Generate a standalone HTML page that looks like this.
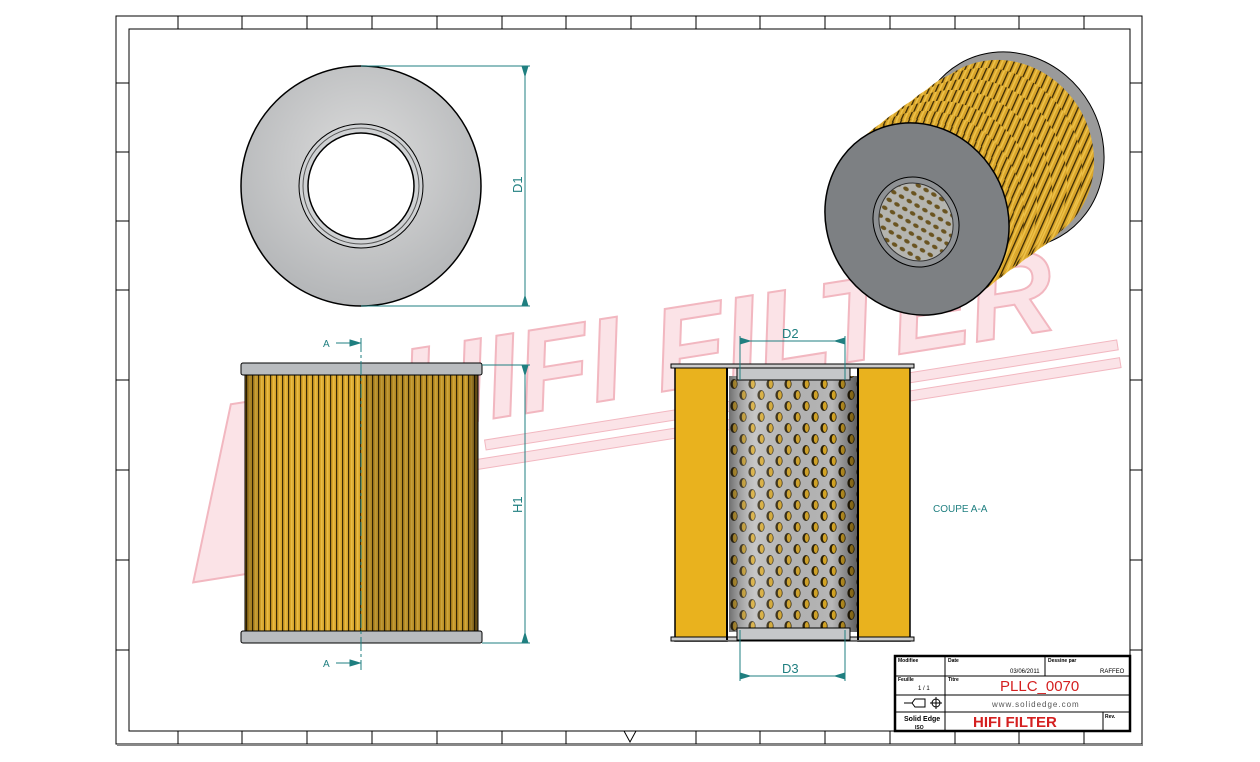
<!DOCTYPE html>
<html><head><meta charset="utf-8"><style>
html,body{margin:0;padding:0;background:#fff;width:1260px;height:762px;overflow:hidden}
svg{display:block}
text{font-family:"Liberation Sans",sans-serif}
</style></head><body>
<svg width="1260" height="762" viewBox="0 0 1260 762" xmlns="http://www.w3.org/2000/svg">
<defs>
<pattern id="pleat" x="0" y="0" width="6" height="10" patternUnits="userSpaceOnUse">
<rect width="6" height="10" fill="#d9a52a"/><rect x="0" width="1.2" height="10" fill="#3a2a05"/><rect x="3" width="1.5" height="10" fill="#e8bb45"/>
</pattern>
<pattern id="perf" x="729" y="378" width="18" height="22" patternUnits="userSpaceOnUse">
<rect width="18" height="22" fill="#b8b8b8"/>
<ellipse cx="5" cy="6" rx="3.6" ry="5" fill="#2a2008"/><ellipse cx="5.8" cy="6" rx="2" ry="4" fill="#d6a626"/>
<ellipse cx="14" cy="17" rx="3.6" ry="5" fill="#2a2008"/><ellipse cx="14.8" cy="17" rx="2" ry="4" fill="#d6a626"/>
</pattern>
<pattern id="perf2" width="9" height="9" patternUnits="userSpaceOnUse" patternTransform="rotate(-30)">
<rect width="9" height="9" fill="#b5b5b0"/><ellipse cx="4" cy="4" rx="2" ry="3" fill="#6a5420"/>
</pattern>
<linearGradient id="pg" x1="0" x2="1"><stop offset="0" stop-color="#000" stop-opacity=".35"/><stop offset=".08" stop-color="#000" stop-opacity="0"/><stop offset=".5" stop-color="#000" stop-opacity="0"/><stop offset=".52" stop-color="#000" stop-opacity=".2"/><stop offset=".95" stop-color="#000" stop-opacity=".1"/><stop offset="1" stop-color="#000" stop-opacity=".6"/></linearGradient>
<radialGradient id="disk" cx=".5" cy=".4" r=".6"><stop offset="0" stop-color="#dcdcdc"/><stop offset="1" stop-color="#b4b6b8"/></radialGradient>
<linearGradient id="tube" x1="0" x2="1"><stop offset="0" stop-color="#000" stop-opacity=".4"/><stop offset=".2" stop-color="#fff" stop-opacity=".2"/><stop offset=".8" stop-color="#000" stop-opacity="0"/><stop offset="1" stop-color="#000" stop-opacity=".5"/></linearGradient>
<pattern id="pleat2" width="7" height="7" patternUnits="userSpaceOnUse" patternTransform="rotate(-36)">
<rect width="7" height="7" fill="#d9a52a"/><rect width="7" height="1.3" fill="#3a2a05"/><rect y="3" width="7" height="1.5" fill="#edc24a"/>
</pattern>
</defs>

<!-- frame -->
<rect x="116" y="16" width="1026" height="728" fill="#fff" stroke="#000" stroke-width="1"/>
<rect x="129" y="29" width="1001" height="702" fill="none" stroke="#000" stroke-width="1"/>
<line x1="117" y1="745" x2="1143" y2="745" stroke="#888" stroke-width="2"/>
<g stroke="#000" stroke-width="1">
<line x1="178" y1="16" x2="178" y2="29"/><line x1="242" y1="16" x2="242" y2="29"/><line x1="307" y1="16" x2="307" y2="29"/><line x1="372" y1="16" x2="372" y2="29"/><line x1="437" y1="16" x2="437" y2="29"/><line x1="502" y1="16" x2="502" y2="29"/><line x1="566" y1="16" x2="566" y2="29"/><line x1="631" y1="16" x2="631" y2="29"/><line x1="696" y1="16" x2="696" y2="29"/><line x1="760" y1="16" x2="760" y2="29"/><line x1="825" y1="16" x2="825" y2="29"/><line x1="890" y1="16" x2="890" y2="29"/><line x1="955" y1="16" x2="955" y2="29"/><line x1="1019" y1="16" x2="1019" y2="29"/><line x1="1084" y1="16" x2="1084" y2="29"/>
<line x1="178" y1="731" x2="178" y2="744"/><line x1="242" y1="731" x2="242" y2="744"/><line x1="307" y1="731" x2="307" y2="744"/><line x1="372" y1="731" x2="372" y2="744"/><line x1="437" y1="731" x2="437" y2="744"/><line x1="502" y1="731" x2="502" y2="744"/><line x1="566" y1="731" x2="566" y2="744"/><line x1="696" y1="731" x2="696" y2="744"/><line x1="760" y1="731" x2="760" y2="744"/><line x1="825" y1="731" x2="825" y2="744"/><line x1="890" y1="731" x2="890" y2="744"/><line x1="955" y1="731" x2="955" y2="744"/><line x1="1019" y1="731" x2="1019" y2="744"/><line x1="1084" y1="731" x2="1084" y2="744"/>
<line x1="116" y1="83" x2="129" y2="83"/><line x1="116" y1="152" x2="129" y2="152"/><line x1="116" y1="221" x2="129" y2="221"/><line x1="116" y1="290" x2="129" y2="290"/><line x1="116" y1="380" x2="129" y2="380"/><line x1="116" y1="470" x2="129" y2="470"/><line x1="116" y1="560" x2="129" y2="560"/><line x1="116" y1="650" x2="129" y2="650"/>
<line x1="1130" y1="83" x2="1142" y2="83"/><line x1="1130" y1="152" x2="1142" y2="152"/><line x1="1130" y1="221" x2="1142" y2="221"/><line x1="1130" y1="290" x2="1142" y2="290"/><line x1="1130" y1="380" x2="1142" y2="380"/><line x1="1130" y1="470" x2="1142" y2="470"/><line x1="1130" y1="560" x2="1142" y2="560"/><line x1="1130" y1="650" x2="1142" y2="650"/>
</g>
<path d="M624 731 L636 731 L630 742 Z" fill="none" stroke="#000"/>

<!-- watermark -->
<g transform="rotate(-9 700 330)">
<path d="M160 500 L225 330 L285 330 L220 500 Z" fill="#fbe3e7" stroke="#f2b7c0" stroke-width="2"/>
<path d="M235 500 L300 330 L360 330 L295 500 Z" fill="#fbe3e7" stroke="#f2b7c0" stroke-width="2"/>
<text x="395" y="385" font-family="Liberation Serif, serif" font-size="118" font-weight="bold" font-style="italic" fill="#fbe3e7" stroke="#f2b7c0" stroke-width="2">HIFI FILTER</text>
<rect x="470" y="405" width="640" height="10" fill="#fbe3e7" stroke="#f2b7c0"/>
<rect x="450" y="423" width="660" height="10" fill="#fbe3e7" stroke="#f2b7c0"/>
</g>

<!-- top view -->
<circle cx="361" cy="186" r="120" fill="url(#disk)" stroke="#000" stroke-width="1.5"/>
<circle cx="361" cy="186" r="62" fill="#cfd1d3" stroke="#000"/>
<circle cx="361" cy="186" r="58" fill="none" stroke="#555"/>
<circle cx="361" cy="186" r="53" fill="#fff" stroke="#000" stroke-width="1.5"/>
<g stroke="#1f7f80" fill="#1f7f80" stroke-width="1">
<line x1="361" y1="66" x2="530" y2="66"/><line x1="361" y1="306" x2="530" y2="306"/>
<line x1="525" y1="66" x2="525" y2="306"/>
<path d="M522 66 L528 66 L525 76 Z"/><path d="M522 306 L528 306 L525 296 Z"/>
</g>
<text x="0" y="0" font-size="13" fill="#1f7f80" transform="translate(522 193) rotate(-90)">D1</text>

<!-- front view -->
<rect x="245" y="375" width="233" height="256" fill="url(#pleat)"/>
<rect x="245" y="375" width="233" height="256" fill="url(#pg)"/>
<rect x="241" y="363" width="241" height="12" rx="2" fill="#b9bcbf" stroke="#000"/>
<rect x="241" y="631" width="241" height="12" rx="2" fill="#b9bcbf" stroke="#000"/>
<rect x="245" y="375" width="233" height="256" fill="none" stroke="#000"/>
<line x1="361" y1="338" x2="361" y2="670" stroke="#1f7f80" stroke-dasharray="14 3 3 3"/>
<g stroke="#1f7f80" fill="#1f7f80">
<line x1="336" y1="343" x2="361" y2="343"/><path d="M350 340 L360 343 L350 346Z"/>
<line x1="336" y1="663" x2="361" y2="663"/><path d="M350 660 L360 663 L350 666Z"/>
<line x1="482" y1="365" x2="530" y2="365"/><line x1="482" y1="643" x2="530" y2="643"/>
<line x1="525" y1="365" x2="525" y2="643"/>
<path d="M522 365 L528 365 L525 375 Z"/><path d="M522 643 L528 643 L525 633 Z"/>
</g>
<text x="323" y="347" font-size="10" fill="#1f7f80">A</text>
<text x="323" y="667" font-size="10" fill="#1f7f80">A</text>
<text x="0" y="0" font-size="13" fill="#1f7f80" transform="translate(522 513) rotate(-90)">H1</text>

<!-- section view -->
<rect x="729" y="376" width="129" height="256" fill="url(#perf)"/>
<rect x="729" y="376" width="129" height="256" fill="url(#tube)"/>
<rect x="675" y="365" width="52" height="276" fill="#e9b21e" stroke="#000" stroke-width="1.5"/>
<rect x="858" y="365" width="52" height="276" fill="#e9b21e" stroke="#000" stroke-width="1.5"/>
<rect x="671" y="364" width="243" height="4" fill="#ccc" stroke="#000"/>
<rect x="671" y="637" width="243" height="4" fill="#ccc" stroke="#000"/>
<rect x="737" y="368" width="113" height="12" fill="#c5c7c9" stroke="#000"/>
<rect x="737" y="628" width="113" height="12" fill="#c5c7c9" stroke="#000"/>
<line x1="727" y1="368" x2="727" y2="640" stroke="#000" stroke-width="2"/>
<line x1="858" y1="368" x2="858" y2="640" stroke="#000" stroke-width="2"/>
<g stroke="#1f7f80" fill="#1f7f80">
<line x1="740" y1="336" x2="740" y2="380"/><line x1="845" y1="336" x2="845" y2="380"/>
<line x1="740" y1="341" x2="845" y2="341"/><path d="M740 338 L750 341 L740 344Z"/><path d="M845 338 L835 341 L845 344Z"/>
<line x1="740" y1="630" x2="740" y2="681"/><line x1="845" y1="630" x2="845" y2="681"/>
<line x1="740" y1="676" x2="845" y2="676"/><path d="M740 673 L750 676 L740 679Z"/><path d="M845 673 L835 676 L845 679Z"/>
</g>
<text x="782" y="338" font-size="13" fill="#1f7f80">D2</text>
<text x="782" y="673" font-size="13" fill="#1f7f80">D3</text>
<text x="933" y="512" font-size="10" fill="#1f7f80">COUPE A-A</text>

<!-- perspective -->
<ellipse cx="1010" cy="150" rx="92" ry="100" transform="rotate(-30 1010 150)" fill="#9a9a9a" stroke="#000"/>
<g fill="url(#pleat2)">
<ellipse cx="1004" cy="154" rx="88" ry="96" transform="rotate(-30 1004 154)"/>
<ellipse cx="990" cy="164" rx="90" ry="98" transform="rotate(-30 990 164)"/>
<ellipse cx="975" cy="175" rx="90" ry="98" transform="rotate(-30 975 175)"/>
<ellipse cx="960" cy="186" rx="90" ry="98" transform="rotate(-30 960 186)"/>
<ellipse cx="945" cy="197" rx="90" ry="98" transform="rotate(-30 945 197)"/>
<ellipse cx="932" cy="207" rx="90" ry="98" transform="rotate(-30 932 207)"/>
<ellipse cx="922" cy="215" rx="90" ry="98" transform="rotate(-30 922 215)"/>
</g>
<ellipse cx="917" cy="219" rx="90" ry="98" transform="rotate(-30 917 219)" fill="#7d8083" stroke="#000" stroke-width="1.5"/>
<ellipse cx="916" cy="222" rx="42" ry="46" transform="rotate(-30 916 222)" fill="#8e9194" stroke="#000"/>
<ellipse cx="916" cy="222" rx="36" ry="40" transform="rotate(-30 916 222)" fill="url(#perf2)" stroke="#333"/>

<!-- title block -->
<g stroke="#000" fill="none">
<rect x="895" y="656" width="235" height="75" stroke-width="2.5"/>
<line x1="895" y1="676" x2="1130" y2="676"/>
<line x1="895" y1="695" x2="1130" y2="695"/>
<line x1="895" y1="712" x2="1130" y2="712"/>
<line x1="945" y1="656" x2="945" y2="731"/>
<line x1="1045" y1="656" x2="1045" y2="676"/>
<line x1="1103" y1="712" x2="1103" y2="731"/>
</g>
<g font-size="5" fill="#000" font-weight="bold">
<text x="898" y="662">Modifiee</text><text x="948" y="662">Date</text><text x="1048" y="662">Dessine par</text>
<text x="898" y="681">Feuille</text><text x="948" y="681">Titre</text><text x="1105" y="718">Rev.</text>
</g>
<text x="1010" y="673" font-size="6" fill="#000">03/06/2011</text>
<text x="1100" y="673" font-size="6" fill="#000">RAFFEO</text>
<text x="918" y="690" font-size="6" fill="#000">1 / 1</text>
<text x="1000" y="691" font-size="15" fill="#d42020">PLLC_0070</text>
<text x="992" y="707" font-size="8" fill="#555" letter-spacing="1">www.solidedge.com</text>
<text x="973" y="727" font-size="15" font-weight="bold" fill="#d42020">HIFI FILTER</text>
<text x="904" y="721" font-size="7" font-weight="bold" fill="#000">Solid Edge</text>
<text x="915" y="729" font-size="5" font-weight="bold" fill="#000">ISO</text>
<path d="M904 703 L912 703 L915 699 L925 699 L925 707 L915 707 L912 703" fill="none" stroke="#000"/>
<circle cx="936" cy="703" r="4" fill="none" stroke="#000"/><line x1="930" y1="703" x2="942" y2="703" stroke="#000"/><line x1="936" y1="697" x2="936" y2="709" stroke="#000"/>
</svg>
</body></html>
